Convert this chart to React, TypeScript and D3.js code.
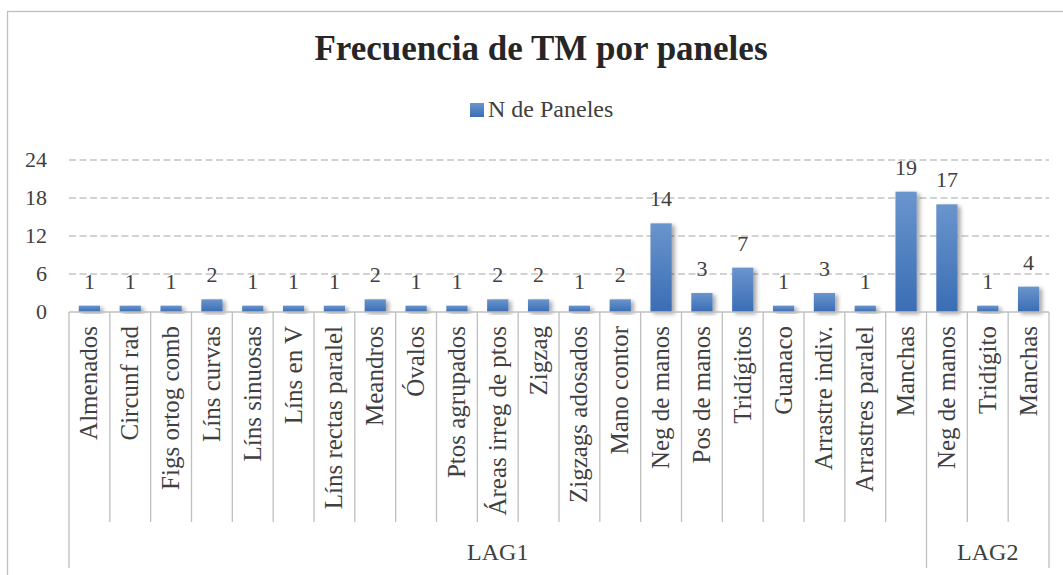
import React from 'react'
import * as d3 from 'd3'

// datos
const categories = [
  'Almenados', 'Circunf rad', 'Figs ortog comb', 'Líns curvas', 'Líns sinuosas',
  'Líns en V', 'Líns rectas paralel', 'Meandros', 'Óvalos', 'Ptos agrupados',
  'Áreas irreg de ptos', 'Zigzag', 'Zigzags adosados', 'Mano contor', 'Neg de manos',
  'Pos de manos', 'Tridígitos', 'Guanaco', 'Arrastre indiv.', 'Arrastres paralel',
  'Manchas', 'Neg de manos', 'Tridígito', 'Manchas',
]
const values = [1, 1, 1, 2, 1, 1, 1, 2, 1, 1, 2, 2, 1, 2, 14, 3, 7, 1, 3, 1, 19, 17, 1, 4]
const groups = [
  { name: 'LAG1', count: 21 },
  { name: 'LAG2', count: 3 },
]
const yTicks = [0, 6, 12, 18, 24]
const seriesName = 'N de Paneles'
const title = 'Frecuencia de TM por paneles'

const W = 1063
const H = 575
const FONT = "'Liberation Serif', 'Times New Roman', serif"
const txt = { fontFamily: FONT }

export default function App() {
  const left = 69, right = 1049, zeroY = 312, topY = 160

  const x = d3.scaleBand<number>()
    .domain(d3.range(categories.length))
    .range([left, right])
    .paddingInner(0.48)
    .paddingOuter(0.24)
  const step = x.step()

  const y = d3.scaleLinear().domain([0, 24]).range([zeroY, topY])

  // límites de los grupos
  let acc = 0
  const groupBounds = groups.map(g => {
    const start = left + acc * step
    acc += g.count
    const end = left + acc * step
    return { ...g, start, end }
  })
  const groupEdges = new Set(groupBounds.map(g => Math.round(g.end)))

  return (
    <div style={{ position: 'absolute', left: 0, top: 0 }}>
      <svg width={W} height={H} style={{ display: 'block', background: '#fff', fontFamily: FONT }}>
        <defs>
          <linearGradient id="barGrad" x1="0" y1="0" x2="0" y2="1">
            <stop offset="0%" stopColor="#6a95cd" />
            <stop offset="100%" stopColor="#3a6db4" />
          </linearGradient>
          <filter id="shadow" x="-30%" y="-10%" width="180%" height="130%">
            <feDropShadow dx="3" dy="2" stdDeviation="2.2" floodColor="#000" floodOpacity="0.35" />
          </filter>
        </defs>

        {/* marco */}
        <rect x={7.5} y={11.5} width={W + 20} height={H + 20} fill="none" stroke="#bfbfbf" strokeWidth={1.3} />

        <text x={541} y={60} textAnchor="middle" fontSize={35} fontWeight="bold" fill="#262626" style={txt}>{title}</text>

        <rect x={470} y={103} width={14} height={14} fill="url(#barGrad)" />
        <text x={488} y={117} fontSize={24} fill="#404040" style={txt}>{seriesName}</text>

        {/* rejilla */}
        {yTicks.filter(t => t > 0).map(t => (
          <line key={t} x1={left} x2={right} y1={y(t)} y2={y(t)}
            stroke="#c4c4c4" strokeWidth={1.3} strokeDasharray="7,3.5" />
        ))}
        {yTicks.map(t => (
          <text key={'l' + t} x={47} y={y(t)} dy="0.34em" textAnchor="end" fontSize={22} fill="#404040" style={txt}>{t}</text>
        ))}

        {/* barras */}
        {values.map((v, i) => (
          <rect key={i} x={x(i)} y={y(v)} width={x.bandwidth()} height={zeroY - y(v)}
            fill="url(#barGrad)" filter="url(#shadow)" />
        ))}
        {values.map((v, i) => (
          <text key={'v' + i} x={(x(i) as number) + x.bandwidth() / 2} y={y(v) - 17}
            textAnchor="middle" fontSize={22} fill="#404040" style={txt}>{v}</text>
        ))}

        {/* eje */}
        <line x1={left} x2={right} y1={zeroY} y2={zeroY} stroke="#bfbfbf" strokeWidth={1.5} />
        {d3.range(categories.length + 1).map(i => {
          const xx = left + i * step
          const tall = i === 0 || groupEdges.has(Math.round(xx))
          return (
            <line key={'t' + i} x1={xx} x2={xx} y1={zeroY} y2={tall ? 568 : 522}
              stroke="#bfbfbf" strokeWidth={1.3} />
          )
        })}
        {categories.map((c, i) => {
          const cx = (x(i) as number) + x.bandwidth() / 2 + 8
          return (
            <text key={'c' + i} transform={`translate(${cx},326) rotate(-90)`}
              textAnchor="end" fontSize={25} fill="#404040" style={txt}>{c}</text>
          )
        })}
        {groupBounds.map(g => (
          <text key={g.name} x={(g.start + g.end) / 2} y={560} textAnchor="middle"
            fontSize={24} fill="#404040" style={txt}>{g.name}</text>
        ))}
      </svg>
    </div>
  )
}
